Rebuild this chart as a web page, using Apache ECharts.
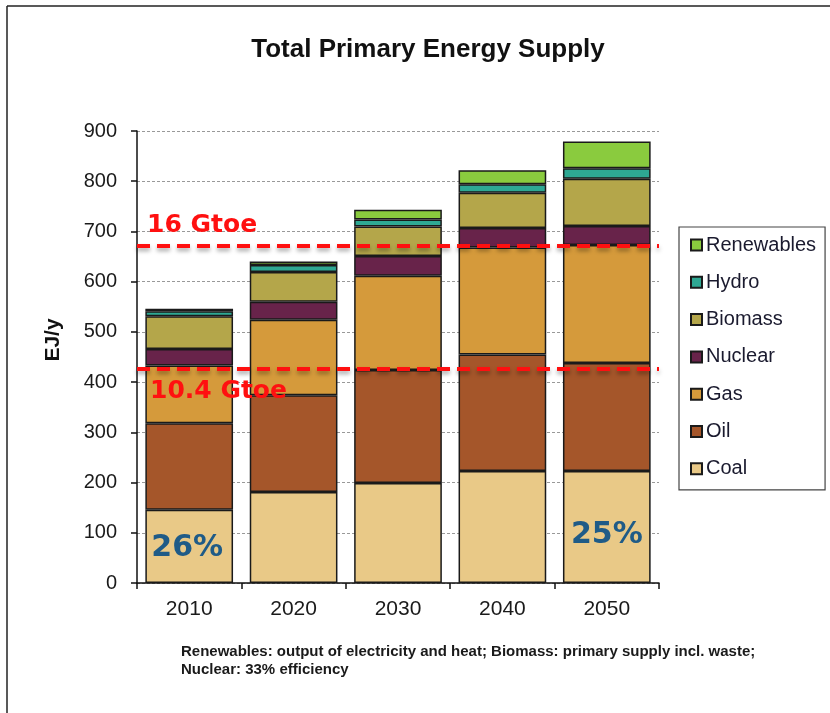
<!DOCTYPE html>
<html>
<head>
<meta charset="utf-8">
<script src="https://cdn.jsdelivr.net/npm/echarts@6/dist/echarts.min.js"></script>
<style>
  html, body { margin: 0; padding: 0; background: #fff; }
  #chart { width: 830px; height: 713px; }
</style>
</head>
<body>
<div id="chart"></div>
<script>
// 数据
const years = ["2010", "2020", "2030", "2040", "2050"]
const coal = [146, 181, 199, 223, 223]
const oil = [172, 193, 225, 232, 215]
const gas = [115, 150, 188, 213, 235]
const nuclear = [33, 36, 39, 39, 38]
const biomass = [65, 59, 59, 70, 94]
const hydro = [10, 14, 14, 17, 21]
const renewables = [5, 7, 19, 28, 53]
const gtoeLines = [
  { value: 672, text: "16 Gtoe", pos: "insideStartTop", dist: [10, 8] },
  { value: 427, text: "10.4 Gtoe", pos: "insideStartBottom", dist: [13, 10] }
]
const shareLabels = { 0: "26%", 4: "25%" }

const font = "Liberation Sans, Arial, sans-serif"
const wideFont = "DejaVu Sans, Verdana, sans-serif"
const chart = echarts.init(document.getElementById("chart"))

function barSeries(name, data, color) {
  return {
    name,
    type: "bar",
    stack: "tpes",
    barCategoryGap: "16%",
    data,
    itemStyle: { color, borderColor: "#1a1a1a", borderWidth: 1.5 }
  }
}

// 煤炭上的百分比标签
const coalData = coal.map((v, i) => {
  if (!shareLabels[i]) return v
  return {
    value: v,
    label: {
      show: true,
      position: "inside",
      offset: i === 4 ? [0, 8] : [-2, 2],
      formatter: shareLabels[i],
      color: "#1f5b87",
      fontSize: 30,
      fontWeight: "bold",
      fontFamily: wideFont
    }
  }
})

const series = [
  barSeries("Coal", coalData, "#E9C987"),
  barSeries("Oil", oil, "#A5562A"),
  barSeries("Gas", gas, "#D59A3B"),
  barSeries("Nuclear", nuclear, "#68234A"),
  barSeries("Biomass", biomass, "#B4A64A"),
  barSeries("Hydro", hydro, "#2EA893"),
  barSeries("Renewables", renewables, "#8ACB3E"),
  {
    name: "gtoe",
    type: "line",
    data: [],
    z: 10,
    markLine: {
      silent: true,
      symbol: "none",
      lineStyle: {
        color: "#ff1010",
        width: 4,
        type: [13, 7],
        shadowColor: "rgba(0,0,0,0.35)",
        shadowBlur: 4,
        shadowOffsetY: 3
      },
      data: gtoeLines.map((d) => ({
        yAxis: d.value,
        label: {
          show: true,
          position: d.pos,
          formatter: d.text,
          distance: d.dist,
          color: "#ff1010",
          fontSize: 25,
          fontWeight: "bold",
          fontFamily: wideFont
        }
      }))
    }
  }
]

chart.setOption({
  backgroundColor: "#fff",
  animation: false,
  title: {
    text: "Total Primary Energy Supply",
    left: 423,
    textAlign: "center",
    top: 32,
    textStyle: { fontSize: 26, fontWeight: "bold", color: "#111", fontFamily: font }
  },
  legend: {
    data: ["Renewables", "Hydro", "Biomass", "Nuclear", "Gas", "Oil", "Coal"],
    orient: "vertical",
    left: 679,
    top: 227,
    padding: [8, 9, 11, 11],
    itemGap: 17.3,
    itemWidth: 11,
    itemHeight: 11,
    icon: "rect",
    borderColor: "#444",
    borderWidth: 1.2,
    textStyle: { fontSize: 20, lineHeight: 20, color: "#1a1a2e", fontFamily: font, padding: [0, 0, 0, -1] }
  },
  grid: { left: 137, right: 171, top: 131, bottom: 130 },
  xAxis: {
    type: "category",
    data: years,
    axisLine: { lineStyle: { color: "#111", width: 1.5 } },
    axisTick: { show: true, length: 6, lineStyle: { color: "#111", width: 1.5 } },
    axisLabel: { fontSize: 21, color: "#1a1a1a", margin: 16, fontFamily: font }
  },
  yAxis: {
    type: "value",
    min: 0,
    max: 900,
    interval: 100,
    axisLine: { show: true, lineStyle: { color: "#111", width: 1.5 } },
    axisTick: { show: true, length: 6, lineStyle: { color: "#111", width: 1.5 } },
    axisLabel: { fontSize: 20, color: "#1a1a1a", margin: 20, fontFamily: font },
    splitLine: { lineStyle: { color: "#999", type: [3, 2], width: 1 } }
  },
  series,
  graphic: [
    // 外框
    { type: "line", shape: { x1: 7, y1: 6, x2: 830, y2: 6 }, style: { stroke: "#222", lineWidth: 1.5 } },
    { type: "line", shape: { x1: 7, y1: 6, x2: 7, y2: 713 }, style: { stroke: "#222", lineWidth: 1.5 } },
    // 纵轴名称
    {
      type: "text",
      x: 53,
      y: 340,
      rotation: Math.PI / 2,
      style: {
        text: "EJ/y",
        fontSize: 21,
        fontWeight: "bold",
        fill: "#111",
        fontFamily: font,
        align: "center",
        verticalAlign: "middle"
      }
    },
    {
      type: "text",
      left: 181,
      top: 643,
      style: {
        text: "Renewables: output of electricity and heat; Biomass: primary supply incl. waste;\nNuclear: 33% efficiency",
        fontSize: 15,
        lineHeight: 18,
        fontWeight: "bold",
        fill: "#1a1a1a",
        fontFamily: font
      }
    }
  ]
})
</script>
</body>
</html>
